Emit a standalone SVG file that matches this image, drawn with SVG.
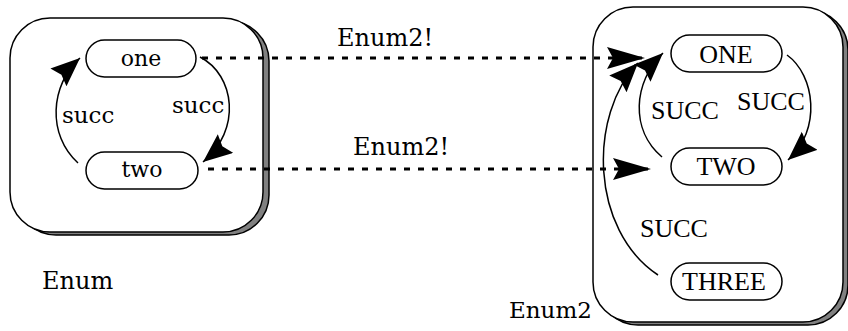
<svg xmlns="http://www.w3.org/2000/svg" width="848" height="331" viewBox="0 0 848 331">
  <style>
    .box { fill: #ffffff; stroke: #000000; stroke-width: 1.5; }
    .shadow { fill: #808080; stroke: #000000; stroke-width: 1.5; }
    .pill { fill: #ffffff; stroke: #000000; stroke-width: 1.5; }
    .lc { font-family: "DejaVu Serif", serif; fill: #000000; }
    .uc { font-family: "Liberation Serif", "Times New Roman", serif; fill: #000000; }
    .node { font-size: 22px; text-anchor: middle; }
    .unode { font-size: 26px; text-anchor: middle; }
    .edge { fill: none; stroke: #000000; stroke-width: 1.5; }
    .map { fill: none; stroke: #000000; stroke-width: 3; stroke-dasharray: 6 8; }
  </style>
  <defs>
    <!-- notched arrowhead for transitions -->
    <marker id="head" markerUnits="userSpaceOnUse" markerWidth="32" markerHeight="26" refX="29" refY="12" orient="auto" viewBox="0 0 32 26">
      <path d="M29,12 L0,0 L4,12 L0,24 Z" fill="#000000"/>
    </marker>
    <!-- longer arrowhead for the mapping lines -->
    <marker id="maphead" markerUnits="userSpaceOnUse" markerWidth="42" markerHeight="26" refX="38" refY="12" orient="auto" viewBox="0 0 42 26">
      <path d="M38,12 L0,1 L6,12 L0,23 Z" fill="#000000"/>
    </marker>
  </defs>

  <!-- source container -->
  <g id="enum">
    <rect class="shadow" x="16" y="21" width="253" height="214" rx="40"/>
    <rect class="box" x="10" y="18" width="253" height="214" rx="40"/>
    <text class="lc" x="42" y="289" font-size="24">Enum</text>
  </g>

  <!-- target container -->
  <g id="enum2">
    <rect class="shadow" x="598" y="10" width="250" height="315" rx="40"/>
    <rect class="box" x="593" y="7" width="250" height="315" rx="40"/>
    <text class="lc" x="509" y="318" font-size="23">Enum2</text>
  </g>

  <g id="node-one">
    <rect class="pill" x="86" y="40" width="110" height="37" rx="18.5"/>
    <text class="lc node" x="141" y="66">one</text>
  </g>
  <g id="node-two">
    <rect class="pill" x="86" y="152" width="112" height="37" rx="18.5"/>
    <text class="lc node" x="142" y="177">two</text>
  </g>
  <g id="node-ONE">
    <rect class="pill" x="671" y="35" width="111" height="37" rx="18.5"/>
    <text class="uc unode" x="726" y="63">ONE</text>
  </g>
  <g id="node-TWO">
    <rect class="pill" x="671" y="148" width="111" height="37" rx="18.5"/>
    <text class="uc unode" x="726" y="175">TWO</text>
  </g>
  <g id="node-THREE">
    <rect class="pill" x="671" y="263" width="111" height="37" rx="18.5"/>
    <text class="uc unode" x="724" y="290">THREE</text>
  </g>

  <g id="connectors">
    <!-- succ transitions in Enum -->
    <path class="edge" d="M200,57 C235,75 242,130 203,162" marker-end="url(#head)"/>
    <path class="edge" d="M78,163 C47,135 50,85 80,58" marker-end="url(#head)"/>
    <!-- SUCC transitions in Enum2 -->
    <path class="edge" d="M787,55 C815,75 822,130 788,160" marker-end="url(#head)"/>
    <path class="edge" d="M662,157 C630,130 633,82 663,53" marker-end="url(#head)"/>
    <path class="edge" d="M658,275 C590,230 588,115 638,63" marker-end="url(#head)"/>
    <!-- Enum2! mapping -->
    <path class="map" d="M202,58 L645,58" marker-end="url(#maphead)"/>
    <path class="map" d="M208,169 L651,169" marker-end="url(#maphead)"/>

    <text class="lc" x="62" y="123" font-size="23">succ</text>
    <text class="lc" x="172" y="113" font-size="23">succ</text>
    <text class="uc" x="651" y="119" font-size="26">SUCC</text>
    <text class="uc" x="737" y="110" font-size="26">SUCC</text>
    <text class="uc" x="640" y="237" font-size="26">SUCC</text>
    <text class="lc" x="337" y="46" font-size="24">Enum2!</text>
    <text class="lc" x="353" y="155" font-size="24">Enum2!</text>
  </g>
</svg>
